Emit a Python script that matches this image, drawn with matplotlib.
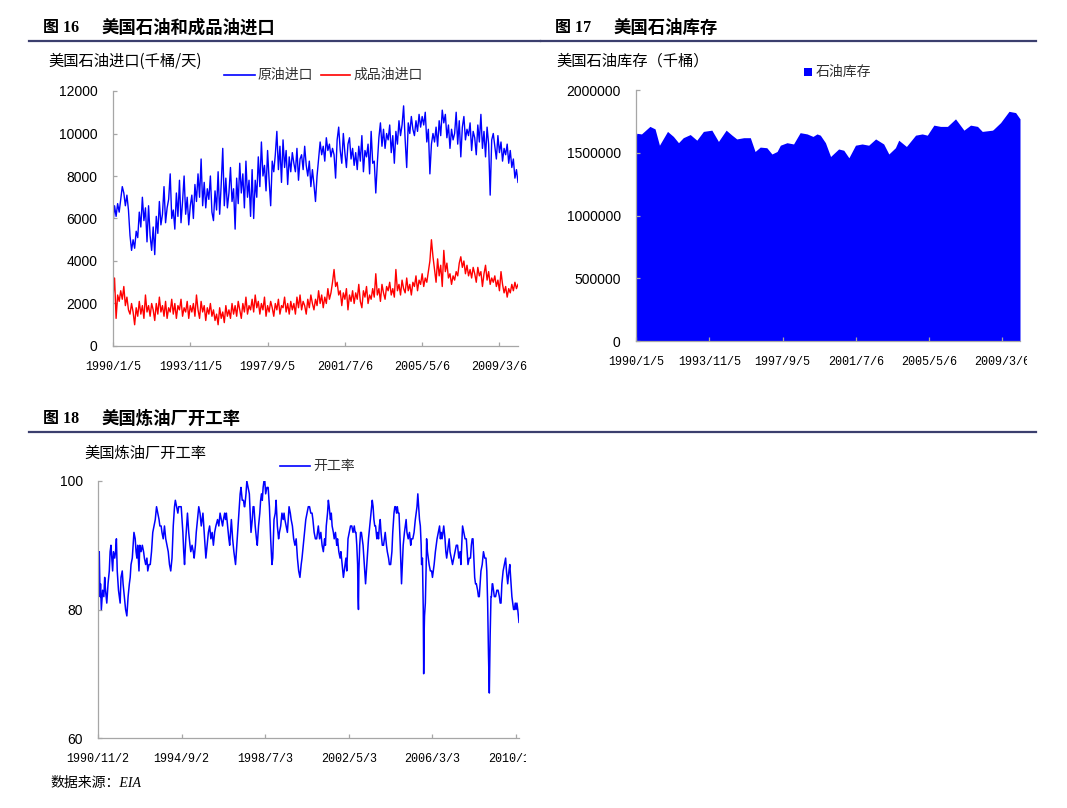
import numpy as np
import matplotlib
matplotlib.use('Agg')
import matplotlib.pyplot as plt
from matplotlib.lines import Line2D
from matplotlib.patches import Rectangle
from matplotlib.ticker import FuncFormatter
from matplotlib.transforms import Bbox, TransformedBbox

# ---- data ----
# weekly imports, sampled every 4 weeks from 1990/1/5 (thousand barrels/day)
crude_imports = [
    5800, 6600, 6100, 6700, 6300, 6900, 7500, 7200, 6600, 7100, 6400, 5200, 4500,
    5000, 4600, 5400, 5100, 6300, 5600, 7000, 5900, 6500, 4900, 6600, 5200, 4500,
    5600, 4300, 6100, 5300, 6800, 5700, 6200, 7500, 5800, 6500, 6900, 8100, 6000,
    6400, 5500, 7200, 6100, 7800, 5800, 6800, 8000, 6200, 7000, 5700, 6600, 7100,
    6000, 7600, 6800, 8100, 7000, 8800, 6600, 7700, 6500, 7400, 6900, 8000, 6300,
    5900, 7300, 6400, 8200, 6200, 7600, 9300, 6600, 7900, 6500, 7200, 8400, 6800,
    7400, 5500, 7900, 6700, 8600, 7200, 8100, 6500, 8700, 7000, 7800, 6100, 8300,
    6000, 7800, 7000, 8900, 7500, 9600, 8000, 8500, 7300, 9200, 7800, 6600, 8700,
    8200, 9000, 10100, 8300, 9400, 7700, 9700, 8400, 9200, 7600, 8900, 8200, 9100,
    8600, 8200, 9300, 7800, 8800, 9000, 8300, 9400, 8500, 8000, 8700, 7500, 8300,
    7600, 6800, 8000, 8800, 9600, 9000, 9400, 8700, 9800, 9200, 9500, 8900, 9300,
    9000, 7900, 9700, 10300, 9200, 8600, 10000, 9100, 8400, 9500, 9800, 8800, 9300,
    8500, 9100, 8300, 9400, 8700, 9900, 8200, 9200, 8900, 9500, 8100, 10100, 8600,
    8700, 7200, 8600, 9800, 10500, 9400, 10200, 9300, 10000, 9700, 10400, 9100, 9900,
    8600, 10100, 9500, 10600, 9900, 10400, 11300, 9700, 8400, 10500, 10000, 10800, 10200,
    9900, 10600, 10100, 10900, 10300, 10800, 10400, 11000, 9600, 10200, 8100, 9500, 10000,
    9600, 10300, 9400, 10600, 9900, 11100, 10500, 10900, 9800, 10400, 9300, 10200, 9700,
    10000, 11000, 9500, 10600, 8900, 10300, 10800, 9700, 10200, 9900, 10500, 9200, 10100,
    9800, 9000, 10400, 9600, 10900, 9300, 10100, 8900, 10300, 9500, 7100, 9700, 10000,
    9400, 8800, 9900, 9100, 9600, 8700, 9300, 9000, 9500, 8600, 9200, 8400, 8800,
    7900, 8300, 7700,
]
product_imports = [
    2300, 3200, 1300, 2400, 2100, 2600, 2200, 2800, 1900, 2300, 1700, 1500, 2000,
    1600, 1000, 1800, 1400, 2100, 1500, 1900, 1300, 2400, 1600, 1900, 1400, 2000,
    1700, 1200, 2000, 1500, 2300, 1600, 1900, 1400, 2100, 1300, 1800, 1600, 2200,
    1500, 2000, 1300, 1900, 1700, 2200, 1400, 1800, 1600, 2100, 1300, 1900, 1600,
    2000, 1400, 2400, 1700, 1300, 2100, 1600, 1900, 1200, 1800, 1500, 2000, 1400,
    1700, 1200, 1500, 1000, 1800, 1300, 1600, 1100, 1900, 1400, 1700, 1300, 2000,
    1500, 1900, 1400, 2100, 1700, 1300, 2000, 1600, 2300, 1500, 1900, 1700, 2200,
    1600, 2400, 1800, 2100, 1500, 2000, 1700, 2300, 1400, 1900, 1600, 2100, 1800,
    1400, 2000, 1700, 2200, 1500, 1900, 1800, 2300, 1600, 2000, 1500, 2100, 1700,
    2000, 1500, 2300, 1800, 2400, 1700, 2100, 1900, 1500, 2200, 1800, 2400, 2000,
    1700, 2200, 1900, 2600, 2000, 2400, 1800, 2300, 2000, 2700, 2200, 2500, 3000,
    3600, 2800, 3000, 2400, 2600, 1900, 2500, 2200, 2700, 1700, 2400, 2100, 2600,
    2000, 2500, 2200, 2900, 2100, 1800, 2600, 2300, 2800, 2000, 2400, 2200, 2700,
    2300, 3400, 2400, 2700, 2100, 2900, 2500, 2200, 2800, 2600, 3000, 2400, 2700,
    2300, 3600, 2600, 2900, 2400, 3100, 2700, 2500, 3200, 2600, 2900, 2400, 3000,
    2800, 3300, 2600, 3100, 2900, 3400, 2800, 3200, 3000, 3500, 4000, 5000, 4200,
    3600, 3000, 4100, 3300, 3800, 2800, 4500, 3500, 3900, 3200, 3400, 2900, 3300,
    3100, 3500, 3300, 3900, 4200, 3700, 4000, 3400, 3800, 3300, 3600, 3200, 3700,
    3400, 3000, 3700, 3300, 3500, 2800, 3400, 3800, 3100, 3500, 2900, 3200, 3000,
    3300, 2800, 3100, 2600, 3500, 2900, 2500, 2800, 2300, 2700, 2500, 2900, 2600,
    3000, 2700, 2900,
]
import_dates = ['1990/1/5', '1993/11/5', '1997/9/5', '2001/7/6', '2005/5/6', '2009/3/6']

# crude oil stocks (thousand barrels), week index from 1990/1/5
stock_week = [0, 2, 15, 38, 52, 64, 86, 102, 116, 129, 148, 166, 184, 207, 225, 246,
              262, 275, 294, 312, 325, 339, 357, 371, 385, 394, 412, 430, 448, 467,
              483, 494, 503, 517, 531, 553, 567, 581, 599, 617, 635, 654, 676, 690,
              708, 717, 738, 763, 781, 795, 813, 831, 850, 872, 895, 913, 932, 945,
              973, 977, 995, 1018, 1036, 1048]
stock_val = [1600000, 1655000, 1650000, 1710000, 1690000, 1560000, 1670000, 1630000,
             1580000, 1620000, 1645000, 1600000, 1670000, 1680000, 1590000, 1680000,
             1640000, 1610000, 1620000, 1620000, 1510000, 1545000, 1540000, 1490000,
             1510000, 1560000, 1580000, 1570000, 1660000, 1650000, 1630000, 1650000,
             1640000, 1580000, 1470000, 1530000, 1520000, 1460000, 1560000, 1570000,
             1560000, 1610000, 1570000, 1490000, 1540000, 1600000, 1550000, 1640000,
             1650000, 1640000, 1720000, 1710000, 1710000, 1770000, 1680000, 1720000,
             1710000, 1670000, 1680000, 1690000, 1740000, 1830000, 1820000, 1770000]

# refinery utilization (%), week index from 1990/11/2
util_week = [0, 2, 3, 5, 6, 8, 11, 14, 16, 18, 21, 24, 27, 29, 31, 33, 35, 37, 40, 42,
             44, 46, 49, 51, 53, 55, 58, 60, 63, 66, 69, 72, 75, 77, 79, 82, 84, 86, 89, 91,
             93, 95, 98, 100, 103, 106, 109, 111, 114, 117, 119, 122, 125, 128, 131, 134, 137, 140, 143, 146,
             148, 151, 153, 156, 159, 162, 165, 168, 171, 174, 177, 180, 183, 185, 188, 191, 193, 196, 199, 201,
             203, 205, 207, 210, 212, 214, 217, 220, 222, 225, 228, 230, 233, 235, 238, 241, 244, 247, 249, 251,
             254, 256, 258, 261, 264, 267, 270, 273, 276, 279, 282, 286, 289, 292, 295, 298, 300, 303, 305, 307,
             310, 313, 315, 317, 319, 322, 325, 327, 329, 332, 335, 338, 340, 342, 345, 348, 350, 351, 354, 356,
             359, 362, 364, 366, 369, 371, 373, 376, 379, 381, 384, 387, 389, 391, 393, 395, 397, 399, 401, 404,
             407, 410, 413, 416, 418, 421, 424, 426, 429, 432, 434, 437, 440, 443, 445, 447, 450, 453, 455, 457,
             460, 462, 465, 468, 471, 474, 477, 480, 483, 486, 488, 491, 494, 497, 500, 503, 506, 509, 512, 514,
             517, 520, 523, 525, 527, 530, 533, 536, 539, 542, 544, 546, 549, 551, 553, 556, 558, 560, 563, 565,
             568, 571, 573, 576, 579, 581, 584, 587, 589, 591, 593, 595, 598, 601, 604, 607, 610, 613, 615, 617,
             619, 621, 622, 623, 624, 626, 628, 630, 632, 634, 636, 638, 640, 642, 644, 647, 650, 653, 656, 658,
             660, 662, 664, 667, 669, 671, 673, 675, 677, 680, 683, 685, 687, 690, 692, 695, 697, 700, 703, 705,
             708, 710, 712, 714, 716, 718, 720, 723, 726, 728, 730, 733, 735, 737, 739, 742, 745, 748, 750, 753,
             756, 759, 761, 763, 765, 767, 769, 771, 773, 774, 776, 778, 779, 780, 781, 783, 785, 786, 788, 790,
             792, 795, 798, 800, 802, 804, 807, 809, 811, 814, 817, 819, 821, 823, 825, 827, 830, 832, 834, 836,
             838, 840, 842, 845, 848, 851, 854, 857, 860, 863, 866, 868, 870, 872, 875, 878, 881, 883, 885, 888,
             891, 893, 895, 897, 899, 901, 903, 905, 908, 910, 912, 914, 916, 919, 922, 925, 928, 930, 932, 934,
             936, 938, 940, 941, 943, 944, 946, 948, 951, 954, 957, 960, 962, 964, 966, 969, 972, 975, 977, 980,
             983, 985, 988, 990, 992, 994, 996, 998, 1000, 1002, 1004, 1007]
util_val = [84, 83, 89, 82, 84, 80, 83, 82, 85, 83, 81, 84, 86, 89, 90, 88, 86, 89, 88, 89,
            91, 86, 83, 82, 81, 85, 86, 84, 82, 80, 79, 82, 84, 85, 87, 88, 90, 92, 91, 89,
            88, 90, 86, 90, 89, 90, 89, 88, 87, 88, 86, 87, 87, 89, 92, 93, 94, 96, 95, 94,
            93, 93, 92, 91, 93, 91, 90, 89, 87, 86, 88, 93, 96, 97, 96, 95, 96, 96, 96, 94,
            92, 89, 87, 91, 93, 95, 92, 90, 89, 90, 89, 88, 90, 92, 94, 96, 95, 93, 94, 95,
            92, 90, 88, 90, 92, 93, 91, 92, 90, 92, 93, 94, 93, 95, 94, 93, 94, 95, 94, 95,
            93, 91, 90, 92, 94, 91, 89, 88, 87, 90, 93, 96, 98, 99, 97, 97, 96, 96, 98, 100,
            99, 98, 95, 92, 94, 96, 96, 93, 91, 90, 93, 95, 97, 98, 97, 99, 100, 100, 98, 99,
            99, 96, 91, 87, 88, 94, 95, 97, 93, 91, 92, 93, 95, 94, 95, 94, 93, 92, 94, 96,
            95, 94, 93, 91, 90, 91, 88, 86, 85, 87, 88, 90, 92, 94, 95, 96, 96, 95, 95, 94,
            92, 91, 91, 92, 93, 91, 92, 90, 89, 91, 90, 93, 95, 97, 96, 94, 95, 93, 92, 91,
            92, 90, 91, 89, 88, 89, 87, 85, 86, 87, 88, 86, 91, 92, 93, 93, 92, 93, 92, 92,
            90, 87, 82, 80, 86, 90, 92, 92, 91, 90, 88, 86, 84, 86, 88, 91, 93, 95, 97, 96,
            94, 93, 93, 91, 92, 91, 93, 94, 92, 90, 90, 91, 92, 90, 89, 88, 87, 87, 89, 92,
            95, 96, 96, 95, 96, 95, 95, 90, 84, 87, 90, 92, 93, 94, 92, 91, 92, 90, 91, 91,
            92, 94, 95, 96, 98, 96, 94, 93, 90, 87, 88, 80, 70, 76, 79, 81, 87, 91, 89, 88,
            87, 86, 86, 85, 86, 87, 89, 90, 91, 92, 93, 91, 92, 91, 92, 93, 91, 89, 88, 89,
            90, 91, 89, 88, 87, 88, 89, 90, 90, 88, 89, 87, 90, 93, 92, 91, 91, 89, 87, 88,
            88, 90, 91, 91, 88, 85, 84, 84, 83, 82, 82, 84, 86, 87, 89, 88, 88, 86, 81, 73,
            67, 76, 82, 82, 84, 84, 83, 82, 82, 83, 83, 82, 81, 81, 84, 86, 87, 88, 86, 84,
            86, 87, 84, 82, 81, 80, 80, 81, 80, 81, 80, 78]
util_dates = ['1990/11/2', '1994/9/2', '1998/7/3', '2002/5/3', '2006/3/3', '2010/1/1']
tick_weeks = [0, 200, 400, 600, 800, 1000]

# ---- figure ----
W, H = 1067, 808
fig = plt.figure(figsize=(W / 100, H / 100), dpi=100)
cjk = ['Noto Sans CJK SC', 'DejaVu Sans']
title_font = ['Liberation Serif', 'Noto Sans CJK SC']
navy = '#3B3F6E'
grey = '#A6A6A6'


def fx(x):
    return x / W


def fy(y):
    return 1 - y / H


def px_axes(l, t, r, b):
    return fig.add_axes([l / W, 1 - b / H, (r - l) / W, (b - t) / H])


def style(ax, clip_x):
    for s in ['top', 'right']:
        ax.spines[s].set_visible(False)
    for s in ['left', 'bottom']:
        ax.spines[s].set_color(grey)
        ax.spines[s].set_linewidth(0.9)
    ax.yaxis.set_major_formatter(FuncFormatter(lambda v, p: '%d' % v))
    ax.tick_params(direction='in', length=3, color=grey, width=0.9)
    ax.tick_params(axis='y', pad=11, labelsize=10)
    ax.tick_params(axis='x', pad=11, labelsize=8.5)
    for lab in ax.get_yticklabels():
        lab.set_family('Liberation Sans')
    box = TransformedBbox(Bbox([[0, 0], [clip_x / W, 1]]), fig.transFigure)
    for lab in ax.get_xticklabels():
        lab.set_family('Liberation Mono')
        lab.set_clip_box(box)
        lab.set_clip_on(True)


def header(y, num, text, x0, x1):
    fig.text(fx(x0 + 14), fy(y), '图 ' + num, family=title_font, fontsize=11.5,
             weight='bold', va='center')
    fig.text(fx(x0 + 73), fy(y), text, family=title_font, fontsize=12.5,
             weight='bold', va='center')
    fig.add_artist(Line2D([fx(x0), fx(x1)], [fy(y + 13)] * 2, color=navy, lw=1.6))


def legend_line(x0, x1, y, color, text):
    fig.add_artist(Line2D([fx(x0), fx(x1)], [fy(y)] * 2, color=color, lw=1.2))
    fig.text(fx(x1 + 3), fy(y), text, family=cjk, fontsize=10, color='#333333', va='center')


# headers
header(28, '16', '美国石油和成品油进口', 29, 540)
header(28, '17', '美国石油库存', 541, 1036)
header(419, '18', '美国炼油厂开工率', 29, 1036)

# ---- panel 16: imports ----
ax1 = px_axes(113, 91, 518, 346)
x_imp = np.arange(len(crude_imports)) * 4
ax1.plot(x_imp, crude_imports, color='#0000FF', lw=1.0)
ax1.plot(x_imp, product_imports, color='#FF0000', lw=1.0)
ax1.set_xlim(0, x_imp[-1])
ax1.set_ylim(0, 12000)
ax1.set_yticks(range(0, 12001, 2000))
ax1.set_xticks(tick_weeks)
ax1.set_xticklabels(import_dates)
style(ax1, 527)
fig.text(fx(48), fy(61), '美国石油进口(千桶/天)', family=cjk, fontsize=11, va='center')
legend_line(224, 255, 75, '#0000FF', '原油进口')
legend_line(321, 350, 75, '#FF0000', '成品油进口')

# ---- panel 17: stocks ----
ax2 = px_axes(636, 90, 1020, 341)
ax2.fill_between(stock_week, stock_val, 0, color='#0000FF', lw=0)
ax2.set_xlim(0, stock_week[-1])
ax2.set_ylim(0, 2000000)
ax2.set_yticks(range(0, 2000001, 500000))
ax2.set_xticks(tick_weeks)
ax2.set_xticklabels(import_dates)
style(ax2, 1027)
fig.text(fx(556), fy(61), '美国石油库存（千桶）', family=cjk, fontsize=11, va='center')
fig.add_artist(Rectangle((fx(804), fy(76)), 8 / W, 8 / H, transform=fig.transFigure,
                         color='#0000FF', lw=0))
fig.text(fx(816), fy(72), '石油库存', family=cjk, fontsize=10, color='#333333', va='center')

# ---- panel 18: refinery utilization ----
ax3 = px_axes(98, 481, 519, 738)
ax3.plot(util_week, util_val, color='#0000FF', lw=1.1)
ax3.set_xlim(0, util_week[-1])
ax3.set_ylim(60, 100)
ax3.set_yticks([60, 80, 100])
ax3.set_xticks(tick_weeks)
ax3.set_xticklabels(util_dates)
style(ax3, 526)
fig.text(fx(84), fy(453), '美国炼油厂开工率', family=cjk, fontsize=11, va='center')
legend_line(280, 310, 466, '#0000FF', '开工率')

fig.text(fx(50), fy(784), '数据来源：EIA', family=['Liberation Serif', 'Noto Sans CJK SC'],
         style='italic', fontsize=10, va='center')

fig.savefig('out.png', dpi=100)
